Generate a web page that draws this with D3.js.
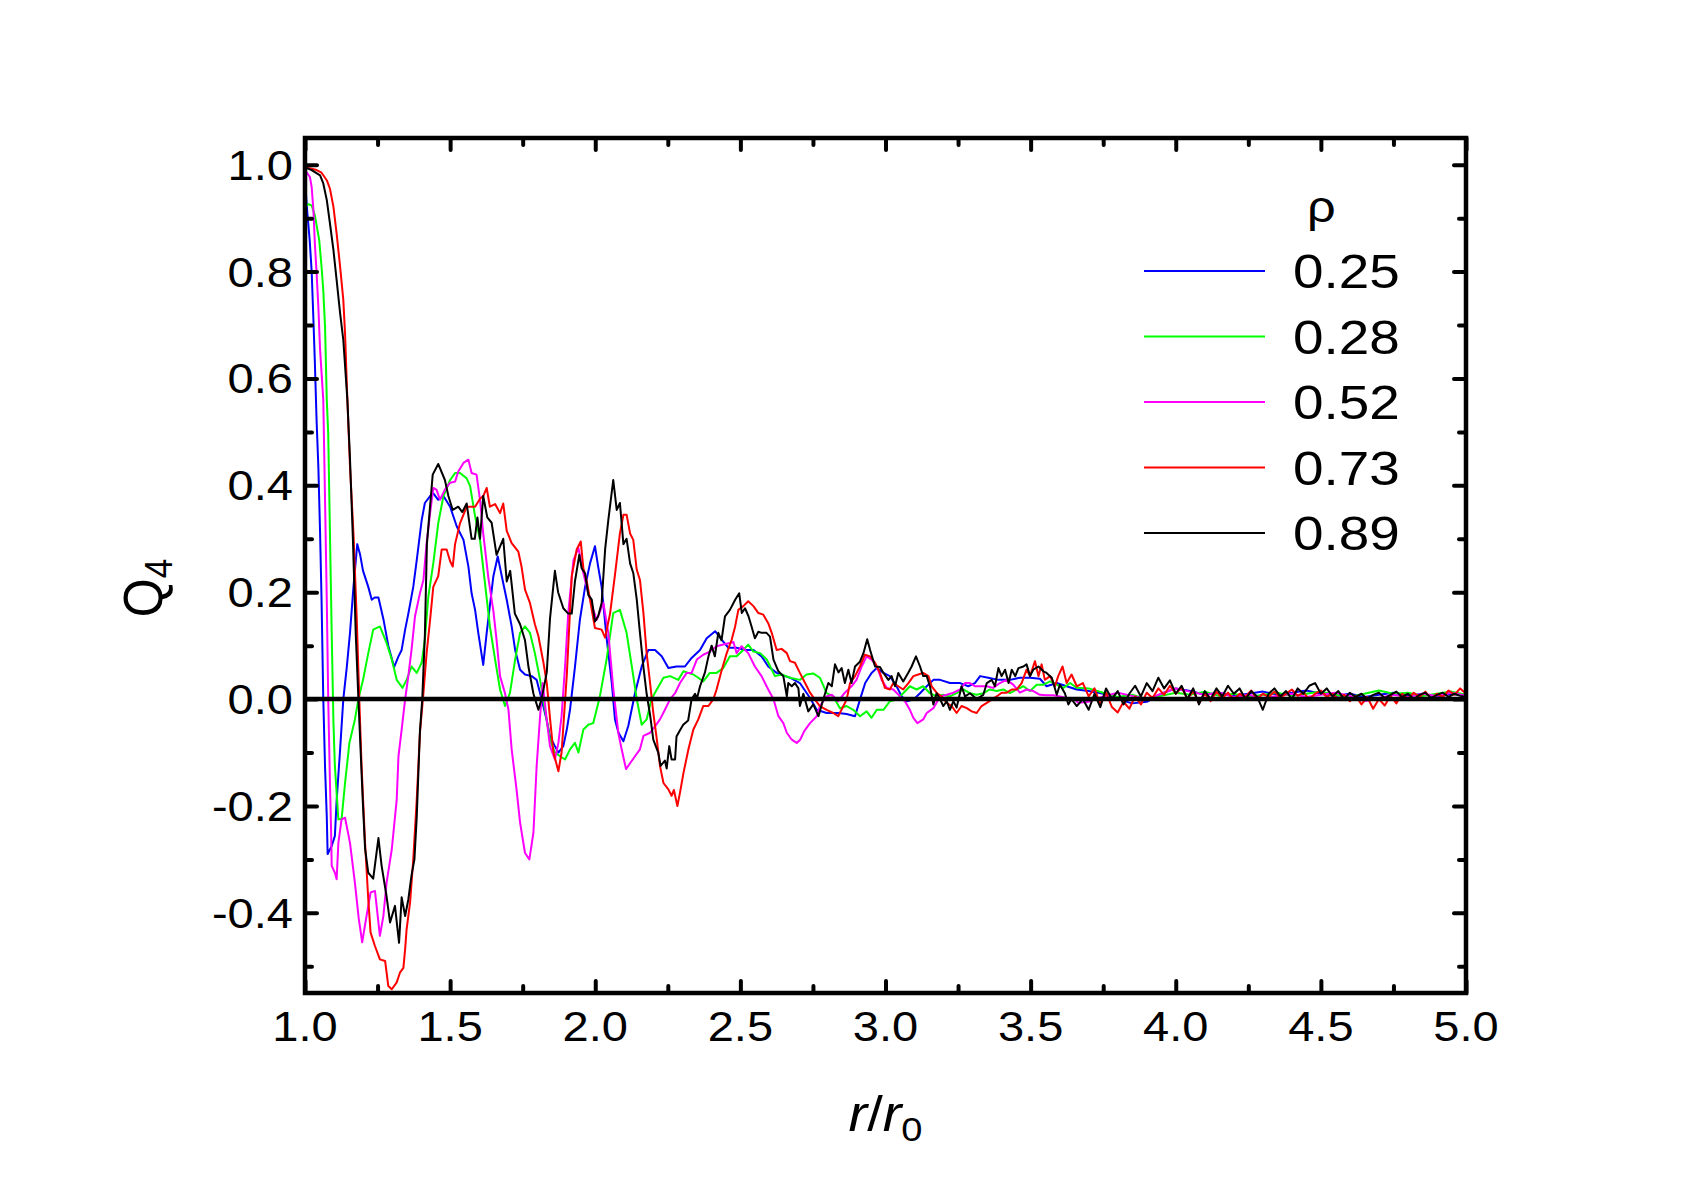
<!DOCTYPE html>
<html>
<head>
<meta charset="utf-8">
<script src="https://cdn.jsdelivr.net/npm/d3@7"></script>
<style>
body { margin: 0; background: #fff; }
text { font-family: "Liberation Sans", Arial, sans-serif; fill: #000; }
</style>
</head>
<body>
<svg id="chart" width="1703" height="1190"></svg>
<script>
var svg = d3.select("#chart");

// r/r0 , Q4 pairs, one array per density
var rho025 = [
	[1.0,0.97],[1.008,0.91],[1.016,0.86],[1.023,0.80],[1.029,0.71],[1.034,0.63],[1.04,0.52],[1.046,0.435],
	[1.052,0.31],[1.057,0.186],[1.063,0.0],[1.069,-0.126],[1.075,-0.22],[1.078,-0.29],[1.092,-0.275],[1.103,-0.256],
	[1.109,-0.19],[1.121,-0.094],[1.132,0],[1.144,0.06],[1.155,0.124],[1.167,0.21],[1.18,0.29],[1.19,0.27],
	[1.2,0.24],[1.218,0.21],[1.23,0.186],[1.24,0.19],[1.253,0.19],[1.27,0.15],[1.287,0.1],[1.307,0.06],
	[1.322,0.08],[1.333,0.092],[1.345,0.13],[1.356,0.16],[1.373,0.21],[1.385,0.26],[1.402,0.335],[1.413,0.367],
	[1.431,0.38],[1.442,0.385],[1.459,0.373],[1.477,0.38],[1.50,0.36],[1.523,0.323],[1.546,0.298],[1.563,0.248],
	[1.574,0.198],[1.586,0.167],[1.597,0.124],[1.614,0.064],[1.626,0.124],[1.637,0.175],[1.649,0.23],[1.664,0.267],
	[1.678,0.23],[1.695,0.186],[1.712,0.136],[1.724,0.092],[1.741,0.055],[1.758,0.046],[1.781,0.043],[1.798,0.036],
	[1.815,0.0],[1.833,-0.04],[1.844,-0.07],[1.861,-0.088],[1.873,-0.1],[1.89,-0.088],[1.902,-0.057],[1.913,-0.02],
	[1.93,0.06],[1.947,0.148],[1.965,0.21],[1.982,0.254],[1.999,0.286],[2.01,0.248],[2.022,0.21],[2.039,0.115],
	[2.057,0.03],[2.068,-0.038],[2.08,-0.063],[2.097,-0.079],[2.114,-0.05],[2.137,0.011],[2.16,0.061],[2.183,0.092],
	[2.206,0.092],[2.229,0.08],[2.252,0.058],[2.28,0.061],[2.309,0.061],[2.332,0.077],[2.361,0.092],[2.384,0.114],
	[2.413,0.127],[2.436,0.111],[2.459,0.096],[2.487,0.096],[2.516,0.092],[2.545,0.092],[2.573,0.08],[2.596,0.061],
	[2.625,0.049],[2.654,0.043],[2.671,0.04],[2.705,0.03],[2.74,0.002],[2.763,-0.02],[2.797,-0.026],[2.837,-0.026],
	[2.866,-0.028],[2.895,-0.032],[2.912,-0.001],[2.93,0.03],[2.952,0.049],[2.97,0.058],[2.993,0.049],[3.015,0.043],
	[3.038,0.024],[3.056,0.005],[3.073,-0.004],[3.096,-0.001],[3.119,0.011],[3.142,0.024],[3.165,0.036],[3.188,0.036],
	[3.222,0.03],[3.257,0.03],[3.285,0.024],[3.308,0.03],[3.326,0.043],[3.354,0.04],[3.389,0.036],[3.429,0.036],
	[3.463,0.04],[3.498,0.04],[3.532,0.038],[3.555,0.024],[3.59,0.03],[3.624,0.024],[3.659,0.018],
	[3.70,0.015],[3.75,0.01],[3.80,0.0],[3.85,-0.008],[3.90,-0.005],[3.95,0.01],[4.00,0.02],[4.05,0.015],
	[4.10,0.008],[4.15,0.012],[4.20,0.006],[4.25,0.01],[4.30,0.014],[4.35,0.008],[4.40,0.012],[4.45,0.016],
	[4.50,0.01],[4.55,0.006],[4.60,0.01],[4.65,0.004],[4.70,0.008],[4.75,0.012],[4.80,0.006],[4.85,0.01],
	[4.90,0.004],[4.95,0.01],[5.00,0.006]
];

var rho028 = [
	[1.0,0.922],[1.012,0.926],[1.023,0.924],[1.034,0.905],[1.049,0.859],[1.057,0.809],[1.063,0.765],[1.069,0.697],
	[1.071,0.653],[1.075,0.56],[1.08,0.497],[1.086,0.31],[1.092,0.124],[1.098,-0.044],[1.103,-0.126],[1.115,-0.225],
	[1.126,-0.225],[1.138,-0.157],[1.153,-0.082],[1.172,-0.038],[1.184,0],[1.2,0.036],[1.218,0.086],[1.235,0.13],
	[1.258,0.136],[1.281,0.105],[1.299,0.074],[1.316,0.036],[1.336,0.021],[1.35,0.036],[1.367,0.061],[1.385,0.049],
	[1.402,0.068],[1.413,0.111],[1.425,0.192],[1.442,0.254],[1.459,0.329],[1.477,0.38],[1.50,0.41],[1.517,0.423],
	[1.534,0.423],[1.557,0.413],[1.569,0.398],[1.586,0.342],[1.603,0.298],[1.62,0.217],[1.637,0.136],[1.655,0.074],
	[1.672,0.018],[1.689,-0.013],[1.706,0.011],[1.724,0.074],[1.741,0.124],[1.758,0.136],[1.775,0.124],[1.792,0.086],
	[1.81,0.036],[1.827,-0.02],[1.844,-0.076],[1.861,-0.1],[1.879,-0.107],[1.896,-0.113],[1.913,-0.094],[1.93,-0.082],
	[1.942,-0.1],[1.959,-0.057],[1.976,-0.048],[1.993,-0.045],[2.016,0.005],[2.039,0.074],[2.062,0.161],[2.085,0.167],
	[2.108,0.124],[2.126,0.061],[2.143,0],[2.16,-0.048],[2.177,-0.038],[2.194,0],[2.212,0.018],[2.235,0.04],
	[2.258,0.043],[2.286,0.036],[2.304,0.052],[2.321,0.049],[2.338,0.046],[2.355,0.04],[2.372,0.033],[2.395,0.049],
	[2.418,0.049],[2.441,0.058],[2.464,0.08],[2.487,0.08],[2.51,0.092],[2.527,0.102],[2.545,0.089],[2.568,0.086],
	[2.591,0.074],[2.619,0.043],[2.642,0.046],[2.671,0.04],[2.705,0.036],[2.728,0.046],[2.751,0.048],[2.774,0.04],
	[2.797,0.011],[2.82,0.005],[2.843,-0.017],[2.866,-0.013],[2.889,-0.02],[2.912,-0.032],[2.935,-0.023],[2.952,-0.035],
	[2.97,-0.02],[2.993,-0.02],[3.015,-0.004],[3.038,-0.001],[3.061,0.011],[3.084,0.024],[3.107,0.018],[3.13,0.024],
	[3.153,0.011],[3.176,0.005],[3.199,0.008],[3.222,0.005],[3.245,0.011],[3.268,0.018],[3.291,0.011],[3.314,0.008],
	[3.337,0.011],[3.36,0.018],[3.383,0.015],[3.406,0.018],[3.429,0.011],[3.452,0.018],[3.475,0.024],[3.498,0.015],
	[3.521,0.027],[3.544,0.027],[3.567,0.033],[3.59,0.027],[3.613,0.021],[3.636,0.03],[3.659,0.021],
	[3.70,0.02],[3.75,0.012],[3.80,0.004],[3.85,0.008],[3.90,0.0],[3.95,0.006],[4.00,0.012],[4.05,0.008],
	[4.10,0.014],[4.15,0.006],[4.20,0.01],[4.25,0.004],[4.30,0.008],[4.35,0.012],[4.40,0.006],[4.45,0.01],
	[4.50,0.014],[4.55,0.008],[4.60,0.004],[4.65,0.01],[4.70,0.016],[4.75,0.01],[4.80,0.012],[4.85,0.006],
	[4.90,0.01],[4.95,0.014],[5.00,0.008]
];

var rho052 = [
	[1.0,0.99],[1.017,0.977],[1.023,0.958],[1.029,0.915],[1.034,0.852],[1.04,0.797],[1.046,0.734],[1.052,0.653],
	[1.063,0.56],[1.069,0.373],[1.075,0.186],[1.08,0],[1.086,-0.157],[1.09,-0.25],[1.092,-0.312],[1.103,-0.325],
	[1.109,-0.337],[1.115,-0.269],[1.126,-0.225],[1.138,-0.222],[1.155,-0.269],[1.172,-0.344],[1.185,-0.41],[1.197,-0.455],
	[1.212,-0.406],[1.226,-0.362],[1.241,-0.359],[1.258,-0.443],[1.27,-0.406],[1.281,-0.344],[1.299,-0.281],[1.316,-0.188],
	[1.322,-0.107],[1.333,-0.057],[1.345,0],[1.356,0.043],[1.367,0.092],[1.379,0.155],[1.396,0.198],[1.408,0.223],
	[1.419,0.292],[1.431,0.348],[1.442,0.395],[1.453,0.392],[1.465,0.373],[1.482,0.392],[1.50,0.405],[1.517,0.407],
	[1.528,0.426],[1.546,0.442],[1.563,0.448],[1.574,0.423],[1.591,0.42],[1.603,0.373],[1.614,0.31],[1.632,0.226],
	[1.649,0.165],[1.66,0.111],[1.672,0.043],[1.689,0.011],[1.701,-0.02],[1.712,-0.094],[1.729,-0.17],[1.741,-0.231],
	[1.758,-0.288],[1.773,-0.3],[1.787,-0.25],[1.798,-0.126],[1.81,-0.032],[1.819,0.03],[1.833,-0.04],[1.844,-0.088],
	[1.861,-0.113],[1.873,-0.082],[1.884,-0.032],[1.896,0.061],[1.907,0.161],[1.925,0.26],[1.942,0.283],[1.959,0.236],
	[1.976,0.198],[1.993,0.168],[2.005,0.148],[2.028,0.18],[2.045,0.124],[2.062,0.02],[2.08,-0.065],[2.091,-0.094],
	[2.106,-0.131],[2.12,-0.12],[2.137,-0.107],[2.154,-0.094],[2.166,-0.069],[2.189,-0.063],[2.206,-0.051],[2.223,-0.038],
	[2.24,-0.02],[2.258,0],[2.275,0.011],[2.292,0.03],[2.315,0.049],[2.332,0.049],[2.35,0.074],[2.372,0.083],
	[2.395,0.089],[2.418,0.099],[2.441,0.102],[2.464,0.105],[2.476,0.107],[2.487,0.086],[2.504,0.099],[2.527,0.086],
	[2.55,0.061],[2.573,0.043],[2.596,0.018],[2.614,0],[2.631,-0.032],[2.648,-0.045],[2.66,-0.063],[2.677,-0.076],
	[2.694,-0.082],[2.706,-0.076],[2.72,-0.06],[2.74,-0.045],[2.763,-0.032],[2.774,-0.013],[2.797,0.005],[2.815,0.008],
	[2.837,-0.004],[2.86,0.012],[2.883,0.024],[2.9,0.036],[2.918,0.061],[2.935,0.08],[2.952,0.074],[2.97,0.061],
	[2.987,0.036],[3.004,0.021],[3.027,0.018],[3.05,0.005],[3.067,-0.004],[3.084,-0.02],[3.096,-0.035],[3.11,-0.045],
	[3.13,-0.038],[3.142,-0.026],[3.165,-0.017],[3.188,0.005],[3.211,0.008],[3.234,0.012],[3.257,0.018],[3.274,0.03],
	[3.291,0.03],[3.308,0.024],[3.329,0.024],[3.349,0.024],[3.371,0.021],[3.394,0.03],[3.417,0.036],[3.44,0.027],
	[3.463,0.012],[3.486,0.018],[3.509,0.015],[3.532,0.008],[3.555,0.007],[3.578,0.007],[3.601,0.005],[3.624,0.002],
	[3.647,0.002],[3.664,-0.007],
	[3.70,-0.005],[3.75,0.005],[3.80,0.012],[3.85,0.006],[3.90,0.0],[3.95,0.01],[4.00,0.02],[4.05,0.014],
	[4.10,0.008],[4.15,0.012],[4.20,0.004],[4.25,0.008],[4.30,0.002],[4.35,0.006],[4.40,0.01],[4.45,0.004],
	[4.50,0.008],[4.55,0.012],[4.60,0.006],[4.65,-0.004],[4.70,0.002],[4.75,0.008],[4.80,0.004],[4.85,0.01],
	[4.90,0.006],[4.95,0.012],[5.00,0.006]
];

var rho073 = [
	[1.0,0.995],[1.02,0.993],[1.04,0.99],[1.057,0.985],[1.075,0.971],[1.086,0.955],[1.098,0.921],[1.109,0.871],
	[1.121,0.809],[1.132,0.747],[1.138,0.684],[1.146,0.56],[1.155,0.435],[1.167,0.31],[1.178,0.155],[1.187,0],
	[1.195,-0.126],[1.207,-0.27],[1.218,-0.375],[1.226,-0.437],[1.241,-0.462],[1.258,-0.487],[1.276,-0.49],[1.287,-0.537],
	[1.299,-0.543],[1.316,-0.53],[1.327,-0.512],[1.339,-0.503],[1.345,-0.468],[1.35,-0.431],[1.362,-0.381],[1.373,-0.3],
	[1.385,-0.188],[1.396,-0.063],[1.408,0.011],[1.419,0.086],[1.431,0.148],[1.442,0.21],[1.459,0.23],[1.471,0.28],
	[1.488,0.28],[1.50,0.258],[1.509,0.248],[1.517,0.29],[1.534,0.329],[1.557,0.36],[1.586,0.36],[1.603,0.375],
	[1.614,0.38],[1.626,0.395],[1.637,0.36],[1.655,0.365],[1.672,0.348],[1.683,0.366],[1.695,0.315],[1.712,0.292],
	[1.735,0.276],[1.746,0.248],[1.758,0.205],[1.775,0.18],[1.792,0.14],[1.804,0.118],[1.821,0.07],[1.833,0.03],
	[1.844,-0.035],[1.856,-0.1],[1.873,-0.135],[1.884,-0.1],[1.902,0.045],[1.919,0.23],[1.936,0.28],[1.95,0.295],
	[1.959,0.245],[1.97,0.223],[1.982,0.186],[1.999,0.133],[2.022,0.13],[2.034,0.115],[2.051,0.16],[2.068,0.233],
	[2.085,0.31],[2.097,0.345],[2.108,0.345],[2.12,0.31],[2.131,0.298],[2.143,0.242],[2.154,0.223],[2.166,0.161],
	[2.177,0.086],[2.189,0.03],[2.2,-0.026],[2.212,-0.075],[2.223,-0.125],[2.235,-0.157],[2.252,-0.169],[2.263,-0.181],
	[2.271,-0.17],[2.283,-0.2],[2.292,-0.175],[2.304,-0.138],[2.321,-0.094],[2.338,-0.057],[2.355,-0.038],[2.372,-0.013],
	[2.39,-0.013],[2.407,0],[2.418,0.018],[2.436,0.055],[2.453,0.086],[2.47,0.111],[2.482,0.136],[2.493,0.167],
	[2.51,0.174],[2.527,0.183],[2.545,0.174],[2.562,0.161],[2.579,0.158],[2.596,0.142],[2.608,0.124],[2.625,0.092],
	[2.642,0.094],[2.66,0.086],[2.671,0.071],[2.688,0.068],[2.705,0.049],[2.723,0.03],[2.74,0.012],[2.757,-0.001],
	[2.774,-0.013],[2.797,-0.02],[2.82,-0.026],[2.837,-0.032],[2.855,-0.013],[2.866,-0.001],[2.878,0.03],[2.895,0.043],
	[2.912,0.061],[2.929,0.083],[2.947,0.08],[2.964,0.068],[2.981,0.049],[2.998,0.021],[3.015,0.018],[3.027,0.03],
	[3.044,0.024],[3.061,0.018],[3.079,0.03],[3.096,0.043],[3.113,0.046],[3.13,0.049],[3.148,0.043],[3.159,0.024],
	[3.176,0.012],[3.193,0.005],[3.211,-0.007],[3.228,-0.013],[3.245,-0.026],[3.262,-0.013],[3.28,-0.017],[3.297,-0.023],
	[3.314,-0.026],[3.331,-0.013],[3.349,-0.007],[3.366,-0.001],[3.383,0.005],[3.4,0.012],[3.418,0.012],[3.435,0.018],
	[3.452,0.018],[3.469,0.03],[3.486,0.055],[3.498,0.043],[3.515,0.071],[3.527,0.043],[3.538,0.065],[3.549,0.036],
	[3.567,0.043],[3.584,0.024],[3.595,0.043],[3.61,0.061],[3.624,0.03],[3.641,0.046],[3.659,0.024],
	[3.68,0.03],[3.70,0.005],[3.72,0.02],[3.74,-0.01],[3.76,0.012],[3.78,-0.015],[3.80,-0.025],[3.82,-0.005],
	[3.84,-0.018],[3.86,0.005],[3.88,-0.01],[3.90,0.012],[3.92,0.002],[3.94,0.02],[3.96,0.008],[3.98,0.025],
	[4.00,0.01],[4.02,0.022],[4.04,0.0],[4.06,0.015],[4.08,-0.008],[4.10,0.01],[4.12,-0.004],[4.14,0.014],
	[4.16,0.002],[4.18,0.012],[4.20,-0.002],[4.22,0.01],[4.24,0.004],[4.26,0.016],[4.28,0.0],[4.30,0.01],
	[4.32,0.004],[4.34,0.014],[4.36,0.002],[4.38,0.01],[4.40,0.018],[4.42,0.006],[4.44,0.012],[4.46,0.0],
	[4.48,0.01],[4.50,0.016],[4.52,0.004],[4.54,0.01],[4.56,0.0],[4.58,0.008],[4.60,-0.004],[4.62,0.006],
	[4.64,-0.01],[4.66,0.004],[4.68,-0.018],[4.70,0.0],[4.72,-0.012],[4.74,0.006],[4.76,-0.008],[4.78,0.01],
	[4.80,0.0],[4.82,0.012],[4.84,0.004],[4.86,0.014],[4.88,0.0],[4.90,0.01],[4.92,0.004],[4.94,0.016],
	[4.96,0.008],[4.98,0.02],[5.00,0.01]
];

var rho089 = [
	[1.0,0.995],[1.023,0.99],[1.052,0.98],[1.063,0.965],[1.075,0.934],[1.086,0.89],[1.098,0.84],[1.109,0.784],
	[1.121,0.722],[1.132,0.672],[1.146,0.56],[1.155,0.45],[1.165,0.3],[1.175,0.12],[1.184,0],[1.199,-0.19],
	[1.207,-0.28],[1.218,-0.325],[1.235,-0.336],[1.253,-0.26],[1.264,-0.312],[1.281,-0.369],[1.293,-0.418],[1.31,-0.387],
	[1.324,-0.456],[1.333,-0.371],[1.345,-0.406],[1.356,-0.375],[1.367,-0.33],[1.377,-0.3],[1.385,-0.22],[1.396,-0.06],
	[1.404,0],[1.413,0.12],[1.42,0.29],[1.44,0.42],[1.459,0.44],[1.482,0.41],[1.494,0.38],[1.509,0.354],
	[1.528,0.36],[1.542,0.35],[1.557,0.366],[1.574,0.3],[1.585,0.3],[1.594,0.34],[1.603,0.3],[1.614,0.38],
	[1.628,0.34],[1.643,0.33],[1.66,0.27],[1.683,0.30],[1.695,0.22],[1.707,0.24],[1.723,0.16],[1.741,0.14],
	[1.758,0.11],[1.77,0.06],[1.787,0.01],[1.804,-0.02],[1.815,0.0],[1.833,0.05],[1.844,0.15],[1.861,0.24],
	[1.872,0.2],[1.89,0.17],[1.907,0.16],[1.919,0.16],[1.93,0.22],[1.945,0.27],[1.953,0.245],[1.965,0.235],
	[1.976,0.195],[1.988,0.186],[1.999,0.145],[2.01,0.155],[2.022,0.18],[2.034,0.28],[2.045,0.335],[2.062,0.41],
	[2.074,0.354],[2.085,0.367],[2.097,0.29],[2.108,0.3],[2.12,0.254],[2.131,0.236],[2.143,0.186],[2.154,0.124],
	[2.166,0.06],[2.177,0.01],[2.189,-0.03],[2.2,-0.076],[2.217,-0.1],[2.225,-0.125],[2.24,-0.115],[2.246,-0.13],
	[2.255,-0.088],[2.263,-0.113],[2.275,-0.113],[2.28,-0.07],[2.29,-0.06],[2.303,-0.048],[2.32,-0.04],[2.332,0.0],
	[2.344,0.01],[2.35,0.0],[2.361,0.024],[2.378,0.05],[2.39,0.08],[2.401,0.1],[2.412,0.08],[2.424,0.124],
	[2.435,0.11],[2.447,0.155],[2.464,0.167],[2.482,0.186],[2.496,0.198],[2.505,0.161],[2.516,0.17],[2.528,0.155],
	[2.539,0.135],[2.55,0.114],[2.562,0.126],[2.573,0.124],[2.59,0.124],[2.602,0.117],[2.614,0.074],[2.631,0.052],
	[2.648,0.043],[2.66,0.005],[2.665,0.03],[2.677,0.024],[2.688,0.03],[2.7,0.02],[2.705,-0.013],[2.717,0.01],
	[2.734,-0.023],[2.751,-0.01],[2.769,-0.032],[2.786,0.0],[2.803,0.03],[2.815,0.024],[2.826,0.065],[2.838,0.05],
	[2.849,0.058],[2.86,0.03],[2.872,0.055],[2.883,0.03],[2.895,0.061],[2.912,0.07],[2.924,0.086],[2.937,0.112],
	[2.947,0.092],[2.964,0.061],[2.981,0.06],[2.993,0.049],[3.01,0.036],[3.021,0.043],[3.033,0.024],[3.044,0.049],
	[3.061,0.033],[3.078,0.049],[3.09,0.061],[3.105,0.08],[3.119,0.061],[3.13,0.043],[3.142,0.043],[3.153,0.024],
	[3.165,-0.01],[3.176,0.011],[3.188,0.0],[3.199,-0.013],[3.211,-0.004],[3.222,-0.02],[3.234,-0.004],[3.245,-0.016],
	[3.262,0.024],[3.274,0.005],[3.291,0.011],[3.314,0.0],[3.337,0.008],[3.349,0.03],[3.366,0.036],[3.377,0.024],
	[3.389,0.058],[3.4,0.043],[3.412,0.055],[3.424,0.03],[3.435,0.055],[3.447,0.043],[3.458,0.058],[3.475,0.061],
	[3.486,0.065],[3.498,0.043],[3.509,0.055],[3.527,0.061],[3.544,0.052],[3.555,0.049],[3.573,0.04],[3.59,0.008],
	[3.601,0.027],[3.618,0.011],[3.63,-0.01],[3.641,0.0],[3.659,-0.013],
	[3.68,0.0],[3.70,-0.02],[3.72,0.01],[3.74,-0.015],[3.76,0.02],[3.78,0.0],[3.80,0.015],[3.82,-0.01],
	[3.84,0.01],[3.86,0.025],[3.88,0.005],[3.90,0.03],[3.92,0.015],[3.94,0.04],[3.96,0.02],[3.98,0.035],
	[4.00,0.01],[4.02,0.025],[4.04,0.0],[4.06,0.02],[4.08,-0.01],[4.10,0.015],[4.12,0.0],[4.14,0.02],
	[4.16,0.005],[4.18,0.025],[4.20,0.01],[4.22,0.02],[4.24,0.0],[4.26,0.015],[4.28,0.005],[4.30,-0.02],
	[4.32,0.01],[4.34,0.02],[4.36,0.005],[4.38,0.015],[4.40,0.0],[4.42,0.02],[4.44,0.01],[4.46,0.025],
	[4.48,0.03],[4.50,0.01],[4.52,0.02],[4.54,0.005],[4.56,0.015],[4.58,0.0],[4.60,0.012],[4.62,0.004],
	[4.64,0.01],[4.66,0.0],[4.68,0.008],[4.70,0.012],[4.72,0.002],[4.74,0.008],[4.76,0.014],[4.78,0.004],
	[4.80,0.01],[4.82,0.0],[4.84,0.008],[4.86,0.012],[4.88,0.002],[4.90,0.008],[4.92,0.012],[4.94,0.004],
	[4.96,0.01],[4.98,0.006],[5.00,0.004]
];

var legendLabels = ["0.25", "0.28", "0.52", "0.73", "0.89"];
var seriesColors = ["#0000ff", "#00ff00", "#ff00ff", "#ff0000", "#000000"];
var allSeries = [rho025, rho028, rho052, rho073, rho089];

var xMajor = [1.0, 1.5, 2.0, 2.5, 3.0, 3.5, 4.0, 4.5, 5.0];
var xMinor = [1.25, 1.75, 2.25, 2.75, 3.25, 3.75, 4.25, 4.75];
var yMajor = [-0.4, -0.2, 0.0, 0.2, 0.4, 0.6, 0.8, 1.0];
var yMinor = [-0.5, -0.3, -0.1, 0.1, 0.3, 0.5, 0.7, 0.9];

// plot box in page pixels (window.top is reserved, so no plain "top")
var plotL = 305, plotR = 1466, plotT = 138, plotB = 993;
var stretch = 1.12;

var xScale = d3.scaleLinear().domain([1, 5]).range([plotL, plotR]);
var yScale = d3.scaleLinear().domain([-0.55, 1.05]).range([plotB, plotT]);

svg.append("defs").append("clipPath").attr("id", "plotClip")
	.append("rect").attr("x", plotL).attr("y", plotT)
	.attr("width", plotR - plotL).attr("height", plotB - plotT);

// curves
var line = d3.line()
	.x(function(d){ return xScale(d[0]); })
	.y(function(d){ return yScale(d[1]); });

svg.append("g").attr("clip-path", "url(#plotClip)")
	.selectAll("path").data(allSeries).enter().append("path")
	.attr("d", line)
	.attr("fill", "none")
	.attr("stroke", function(d, i){ return seriesColors[i]; })
	.attr("stroke-width", 2)
	.attr("stroke-linejoin", "round");

// zero line
svg.append("line")
	.attr("x1", xScale(1)).attr("x2", xScale(5))
	.attr("y1", yScale(0)).attr("y2", yScale(0))
	.attr("stroke", "#000").attr("stroke-width", 4.5);

// ticks on all four sides, pointing inward
function tickAxis(axis, values, size, transform){
	var g = svg.append("g").attr("transform", transform)
		.call(axis.tickValues(values).tickSizeInner(-size).tickSizeOuter(0).tickFormat(""));
	g.select(".domain").remove();
	g.selectAll("line").attr("stroke", "#000").attr("stroke-width", 4).attr("stroke-linecap", "round");
	return g;
}
tickAxis(d3.axisBottom(xScale), xMajor, 12, "translate(0," + plotB + ")");
tickAxis(d3.axisBottom(xScale), xMinor, 7, "translate(0," + plotB + ")");
tickAxis(d3.axisTop(xScale), xMajor, 12, "translate(0," + plotT + ")");
tickAxis(d3.axisTop(xScale), xMinor, 7, "translate(0," + plotT + ")");
tickAxis(d3.axisLeft(yScale), yMajor, 12, "translate(" + plotL + ",0)");
tickAxis(d3.axisLeft(yScale), yMinor, 7, "translate(" + plotL + ",0)");
tickAxis(d3.axisRight(yScale), yMajor, 12, "translate(" + plotR + ",0)");
tickAxis(d3.axisRight(yScale), yMinor, 7, "translate(" + plotR + ",0)");

// frame
svg.append("rect")
	.attr("x", plotL).attr("y", plotT)
	.attr("width", plotR - plotL).attr("height", plotB - plotT)
	.attr("fill", "none").attr("stroke", "#000").attr("stroke-width", 4.5);

// tick labels
svg.append("g").selectAll("text").data(xMajor).enter().append("text")
	.attr("transform", function(d){ return "translate(" + xScale(d) + "," + (plotB + 48) + ") scale(" + stretch + ",1)"; })
	.attr("text-anchor", "middle").attr("font-size", 42)
	.text(function(d){ return d3.format(".1f")(d); });

svg.append("g").selectAll("text").data(yMajor).enter().append("text")
	.attr("transform", function(d){ return "translate(" + (plotL - 12) + "," + (yScale(d) + 15) + ") scale(" + stretch + ",1)"; })
	.attr("text-anchor", "end").attr("font-size", 42)
	.text(function(d){ return d3.format(".1f")(d).replace("\u2212", "-"); });

// axis titles
var xTitle = svg.append("text")
	.attr("transform", "translate(" + ((plotL + plotR) / 2) + ",1131) scale(" + stretch + ",1)")
	.attr("text-anchor", "middle").attr("font-size", 50);
xTitle.append("tspan").attr("font-style", "italic").text("r");
xTitle.append("tspan").text("/");
xTitle.append("tspan").attr("font-style", "italic").text("r");
xTitle.append("tspan").attr("font-size", 34).attr("dy", 10).text("0");

var yTitle = svg.append("text")
	.attr("transform", "translate(162,588) rotate(-90) scale(1," + stretch + ")")
	.attr("text-anchor", "middle").attr("font-size", 50);
yTitle.append("tspan").text("Q");
yTitle.append("tspan").attr("font-size", 35).attr("dy", 9).text("4");

// legend
var legendY = d3.scaleLinear().domain([0, 4]).range([271, 533]);
svg.append("text")
	.attr("transform", "translate(1307,222) scale(" + stretch + ",1)")
	.attr("font-size", 45).text("\u03c1");

var legend = svg.append("g").selectAll("g").data(legendLabels).enter().append("g");
legend.append("line")
	.attr("x1", 1144).attr("x2", 1265)
	.attr("y1", function(d, i){ return legendY(i); })
	.attr("y2", function(d, i){ return legendY(i); })
	.attr("stroke", function(d, i){ return seriesColors[i]; })
	.attr("stroke-width", 2);
legend.append("text")
	.attr("transform", function(d, i){ return "translate(1293," + (legendY(i) + 17) + ") scale(" + stretch + ",1)"; })
	.attr("font-size", 49)
	.text(function(d){ return d; });
</script>
</body>
</html>
